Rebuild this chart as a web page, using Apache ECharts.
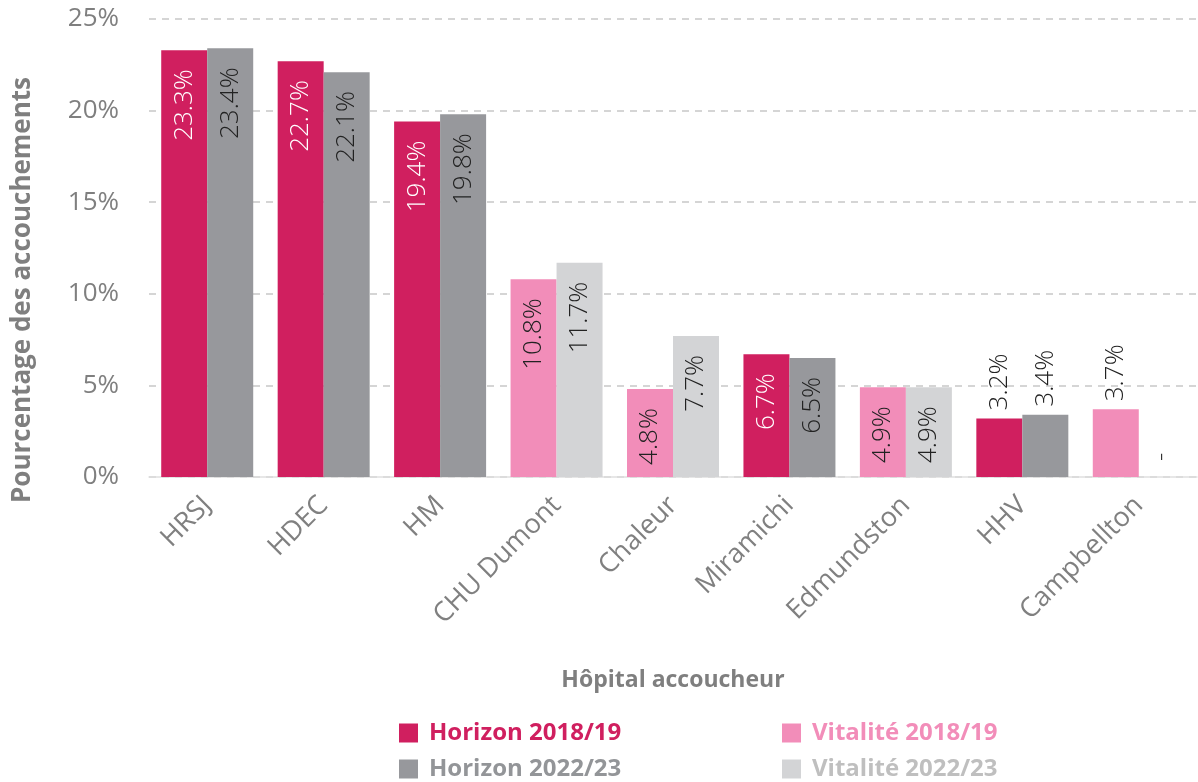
<!DOCTYPE html>
<html>
<head>
<meta charset="utf-8">
<script src="https://cdn.jsdelivr.net/npm/echarts@6/dist/echarts.min.js"></script>
<style>
  html, body { margin: 0; padding: 0; background: #fff; }
  #chart { width: 1198px; height: 782px; }
</style>
</head>
<body>
<div id="chart"></div>
<script>
  // données
  const categories = ['HRSJ', 'HDEC', 'HM', 'CHU Dumont', 'Chaleur', 'Miramichi', 'Edmundston', 'HHV', 'Campbellton']
  const horizon1819 = [23.3, 22.7, 19.4, null, null, 6.7, null, 3.2, null]
  const horizon2223 = [23.4, 22.1, 19.8, null, null, 6.5, null, 3.4, null]
  const vitalite1819 = [null, null, null, 10.8, 4.8, null, 4.9, null, 3.7]
  const vitalite2223 = [null, null, null, 11.7, 7.7, null, 4.9, null, '-']
  const yTicks = [0, 5, 10, 15, 20, 25]

  const font = 'Open Sans'
  const colors = {
    h1819: '#D01F5F',
    h2223: '#97989C',
    v1819: '#F28DB9',
    v2223: '#D3D4D6'
  }

  // étiquette verticale : dedans si la barre est assez haute, sinon au-dessus
  const makeData = (values, textColor) => {
    return values.map((v) => {
      if (v === null) return null
      if (v === '-') {
        return {
          value: 0,
          label: { show: true, position: 'top', distance: 16, rotate: 90, align: 'left', verticalAlign: 'middle', color: '#333', formatter: '-' }
        }
      }
      const inside = v > 4
      return {
        value: v,
        label: {
          show: true,
          position: inside ? 'insideTop' : 'top',
          distance: inside ? 19 : 8,
          rotate: 90,
          align: inside ? 'right' : 'left',
          verticalAlign: 'middle',
          color: inside ? textColor : '#222',
          formatter: v.toFixed(1) + '%'
        }
      }
    })
  }

  const barBase = {
    type: 'bar',
    barCategoryGap: '21%',
    barGap: '0%',
    label: { fontFamily: font, fontSize: 26, fontWeight: 300 }
  }

  const legendText = { fontFamily: font, fontSize: 24, fontWeight: 'bold', lineHeight: 24, padding: [0, 0, 0, 6] }

  const myChart = echarts.init(document.getElementById('chart'))
  const option = {
    animation: false,
    grid: { left: 149, right: 1, top: 19, bottom: 305, outerBoundsMode: 'none' },
    legend: [
      {
        orient: 'vertical',
        left: 394,
        top: 716,
        height: 70,
        itemWidth: 19,
        itemHeight: 19,
        itemGap: 12,
        icon: 'rect',
        textStyle: legendText,
        data: [
          { name: 'Horizon 2018/19', textStyle: { color: colors.h1819 } },
          { name: 'Horizon 2022/23', textStyle: { color: '#939598' } }
        ]
      },
      {
        orient: 'vertical',
        left: 777,
        top: 716,
        height: 70,
        itemWidth: 19,
        itemHeight: 19,
        itemGap: 12,
        icon: 'rect',
        textStyle: legendText,
        data: [
          { name: 'Vitalité 2018/19', textStyle: { color: colors.v1819 } },
          { name: 'Vitalité 2022/23', textStyle: { color: '#BFBFBF' } }
        ]
      }
    ],
    xAxis: {
      type: 'category',
      data: categories,
      name: 'Hôpital accoucheur',
      nameLocation: 'middle',
      nameGap: 192,
      nameTextStyle: { fontFamily: font, fontSize: 23, fontWeight: 'bold', color: '#7F7F7F' },
      axisLine: { lineStyle: { color: '#E0E0E0', width: 1.5 } },
      axisTick: { show: false },
      axisLabel: { rotate: 45, fontFamily: font, fontSize: 27, color: '#808080', margin: 24, interval: 0 }
    },
    yAxis: {
      type: 'value',
      min: 0,
      max: yTicks[yTicks.length - 1],
      interval: yTicks[1] - yTicks[0],
      name: 'Pourcentage des accouchements',
      nameLocation: 'middle',
      nameGap: 113,
      nameTextStyle: { fontFamily: font, fontSize: 26, fontWeight: 'bold', color: '#7F7F7F', padding: [0, 84, 0, 0] },
      axisLine: { show: false },
      axisTick: { show: false },
      axisLabel: { fontFamily: font, fontSize: 26, color: '#7F7F7F', margin: 30, formatter: '{value}%' },
      splitLine: { lineStyle: { color: '#C8C8C8', type: [7, 6], width: 1.5 } }
    },
    series: [
      { ...barBase, name: 'Horizon 2018/19', stack: 'a', itemStyle: { color: colors.h1819 }, data: makeData(horizon1819, '#fff') },
      { ...barBase, name: 'Horizon 2022/23', stack: 'b', itemStyle: { color: colors.h2223 }, data: makeData(horizon2223, '#222') },
      { ...barBase, name: 'Vitalité 2018/19', stack: 'a', itemStyle: { color: colors.v1819 }, data: makeData(vitalite1819, '#222') },
      { ...barBase, name: 'Vitalité 2022/23', stack: 'b', itemStyle: { color: colors.v2223 }, data: makeData(vitalite2223, '#222') }
    ]
  }
  myChart.setOption(option)
</script>
</body>
</html>
